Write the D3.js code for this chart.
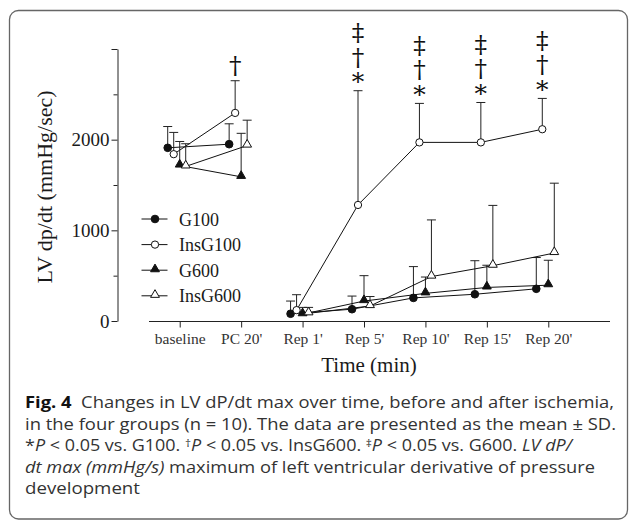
<html>
<head>
<script src="https://d3js.org/d3.v7.min.js"></script>
<style>
    body { margin: 0; background: #fff; }
    svg { display: block; }
    .serif { font-family: "Liberation Serif", "Times New Roman", serif; fill: #1a1a1a; font-weight: normal; }
    .cap { font-family: "Open Sans", "Noto Sans", sans-serif; font-size: 16.5px; fill: #333; }
    .sig { font-family: "DejaVu Serif", serif; fill: #111; writing-mode: vertical-rl; text-orientation: upright; }
</style>
</head>
<body>
<svg id="chart" width="629" height="520"></svg>
<script>
    // categories along the x axis
    var categories = ["baseline", "PC 20'", "Rep 1'", "Rep 5'", "Rep 10'", "Rep 15'", "Rep 20'"];

    // group names
    var groups = ["G100", "InsG100", "G600", "InsG600"];

    // means (mmHg/sec)
    var g100Mean    = [1910, 1950,  80,  130,  255,  295,  355];
    var insG100Mean = [1840, 2295, 120, 1280, 1970, 1970, 2115];
    var g600Mean    = [1715, 1590,  75,  220,  305,  370,  395];
    var insG600Mean = [1705, 1935,  85,  165,  490,  610,  750];

    // SD (upper error bars only)
    var g100Sd    = [235, 225, 140,  145, 345, 370, 345];
    var insG100Sd = [240, 355, 170, 1260, 430, 440, 340];
    var g600Sd    = [265, 480,  75,  280, 180, 245, 275];
    var insG600Sd = [250, 280,  65,  105, 625, 665, 770];

    // significance marks above InsG100 (read top to bottom)
    var markCats = ["PC 20'", "Rep 5'", "Rep 10'", "Rep 15'", "Rep 20'"];
    var markSyms = ["\u2020", "\u2021\u2020*", "\u2021\u2020*", "\u2021\u2020*", "\u2021\u2020*"];

    var yTicks = [0, 500, 1000, 1500, 2000, 2500, 3000];

    var means = [g100Mean, insG100Mean, g600Mean, insG600Mean];
    var sds = [g100Sd, insG100Sd, g600Sd, insG600Sd];
    var offsets = [-12, -6, 0, 6];
    var filled = [true, false, true, false];
    var shapes = [d3.symbolCircle, d3.symbolCircle, d3.symbolTriangle, d3.symbolTriangle];
    var sizes = [46, 42, 34, 34];

    var svg = d3.select('#chart');

    // frame
    svg.append('rect')
        .attr('x', 9.5).attr('y', 10.5)
        .attr('width', 618).attr('height', 508.5)
        .attr('rx', 9)
        .attr('fill', 'none').attr('stroke', '#666').attr('stroke-width', 1.3);

    var x = d3.scalePoint().domain(categories).range([149, 579]).padding(0.5);
    var y = d3.scaleLinear().domain([0, 3000]).range([321, 49]);

    // y axis
    var yAxis = svg.append('g')
        .attr('transform', 'translate(117.5,0)')
        .call(d3.axisLeft(y).tickValues(yTicks).tickSize(6).tickSizeOuter(0).tickPadding(2)
            .tickFormat(function(d) { return (d % 1000 === 0 && d < 3000) ? d : ''; }));
    yAxis.select('.domain').attr('stroke', '#222');
    yAxis.selectAll('.tick line').attr('stroke', '#222')
        .attr('x2', function(d) { return d % 1000 === 0 ? -6 : -4; });
    yAxis.selectAll('.tick text').attr('class', 'serif').style('font-size', '19px');

    // x axis
    var xAxis = svg.append('g')
        .attr('transform', 'translate(0,321.5)')
        .call(d3.axisBottom(x).tickSize(6).tickSizeOuter(0).tickPadding(5));
    xAxis.select('.domain').attr('d', 'M149,0H610').attr('stroke', '#222');
    xAxis.selectAll('.tick line').attr('stroke', '#222');
    xAxis.selectAll('.tick text').attr('class', 'serif').style('font-size', '15.5px').style('fill', '#333');

    // axis titles
    svg.append('text').attr('class', 'serif')
        .attr('transform', 'translate(52,187) rotate(-90)')
        .attr('text-anchor', 'middle')
        .style('font-size', '22px')
        .text('LV dp/dt (mmHg/sec)');
    svg.append('text').attr('class', 'serif')
        .attr('x', 369).attr('y', 372)
        .attr('text-anchor', 'middle')
        .style('font-size', '21px')
        .text('Time (min)');

    var plot = svg.append('g');
    var line = d3.line()
        .x(function(d) { return d.x; })
        .y(function(d) { return d.y; });

    groups.forEach(function(g, gi) {
        var pts = categories.map(function(c, i) {
            return { x: x(c) + offsets[gi], y: y(means[gi][i]), top: y(means[gi][i] + sds[gi][i]) };
        });
        // pre-ischemia and reperfusion are drawn as separate segments
        [pts.slice(0, 2), pts.slice(2)].forEach(function(seg) {
            plot.append('path').datum(seg)
                .attr('d', line)
                .attr('fill', 'none').attr('stroke', '#111').attr('stroke-width', 1);
        });
        var eb = plot.append('g');
        eb.selectAll('line.v').data(pts).enter().append('line')
            .attr('x1', function(d) { return d.x; }).attr('x2', function(d) { return d.x; })
            .attr('y1', function(d) { return d.y; }).attr('y2', function(d) { return d.top; })
            .attr('stroke', '#222').attr('stroke-width', 1);
        eb.selectAll('line.c').data(pts).enter().append('line')
            .attr('x1', function(d) { return d.x - 4.5; }).attr('x2', function(d) { return d.x + 4.5; })
            .attr('y1', function(d) { return d.top; }).attr('y2', function(d) { return d.top; })
            .attr('stroke', '#222').attr('stroke-width', 1);
    });

    groups.forEach(function(g, gi) {
        plot.append('g').selectAll('path').data(means[gi]).enter().append('path')
            .attr('d', d3.symbol().type(shapes[gi]).size(sizes[gi]))
            .attr('transform', function(d, i) {
                var dy = shapes[gi] === d3.symbolTriangle ? -1 : 0;
                return 'translate(' + (x(categories[i]) + offsets[gi]) + ',' + (y(d) + dy) + ')';
            })
            .attr('fill', filled[gi] ? '#111' : '#fff')
            .attr('stroke', '#111').attr('stroke-width', 1);
    });

    // significance symbols: one vertical text per column, ending just above the InsG100 cap
    plot.selectAll('text.sig').data(markCats).enter().append('text')
        .attr('class', 'sig')
        .attr('x', function(c) { return x(c) + offsets[1]; })
        .attr('y', function(c, k) {
            var i = categories.indexOf(c);
            // a lone dagger sits low in its cell, so lift it a little
            var lift = markSyms[k].slice(-1) === '*' ? 1 : -5;
            return y(insG100Mean[i] + insG100Sd[i]) + lift;
        })
        .attr('text-anchor', 'end')
        .style('font-size', '25px')
        .style('letter-spacing', '-4.5px')
        .text(function(c, k) { return markSyms[k]; });

    // legend
    var legend = svg.append('g');
    groups.forEach(function(g, gi) {
        var ly = 219 + gi * 25.6;
        legend.append('line')
            .attr('x1', 141.5).attr('x2', 167.5).attr('y1', ly).attr('y2', ly)
            .attr('stroke', '#111').attr('stroke-width', 1);
        legend.append('path')
            .attr('d', d3.symbol().type(shapes[gi]).size(sizes[gi])())
            .attr('transform', 'translate(155,' + (shapes[gi] === d3.symbolTriangle ? ly - 1 : ly) + ')')
            .attr('fill', filled[gi] ? '#111' : '#fff')
            .attr('stroke', '#111').attr('stroke-width', 1);
        legend.append('text').attr('class', 'serif')
            .attr('x', 179).attr('y', ly + 6.5)
            .style('font-size', '18px')
            .text(g);
    });

    // caption
    var capLines = [
        { y: 408, len: 589, parts: [["Fig. 4", "b"], ["  Changes in LV dP/dt max over time, before and after ischemia,", ""]] },
        { y: 429.5, len: 591, parts: [["in the four groups (n = 10). The data are presented as the mean \u00b1 SD.", ""]] },
        { y: 451, len: 547, parts: [["*", ""], ["P", "i"], [" < 0.05 vs. G100. ", ""], ["\u2020", "s"], ["P", "i"], [" < 0.05 vs. InsG600. ", ""], ["\u2021", "s"], ["P", "i"], [" < 0.05 vs. G600. ", ""], ["LV dP/", "i"]] },
        { y: 472.5, len: 570, parts: [["dt max (mmHg/s)", "i"], [" maximum of left ventricular derivative of pressure", ""]] },
        { y: 494, len: 115, parts: [["development", ""]] }
    ];
    capLines.forEach(function(l) {
        var t = svg.append('text').attr('class', 'cap')
            .attr('x', 25).attr('y', l.y)
            .attr('textLength', l.len).attr('lengthAdjust', 'spacingAndGlyphs')
            .attr('xml:space', 'preserve');
        l.parts.forEach(function(p) {
            var ts = t.append('tspan').text(p[0]);
            if (p[1] === 'b') ts.style('font-weight', 'bold').style('fill', '#111');
            if (p[1] === 'i') ts.style('font-style', 'italic');
            if (p[1] === 's') ts.style('font-size', '11px').attr('baseline-shift', '35%');
        });
    });
</script>
</body>
</html>
